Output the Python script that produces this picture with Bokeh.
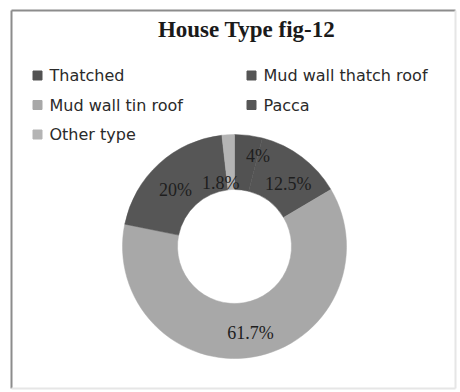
import math
from bokeh.plotting import figure
from bokeh.models import Range1d, ColumnDataSource
from bokeh.core.properties import value
from bokeh.embed import file_html
from bokeh.resources import INLINE

# ---- data ----
categories = ["Thatched", "Mud wall thatch roof", "Mud wall tin roof", "Pacca", "Other type"]
percent = [4.0, 12.5, 61.7, 20.0, 1.8]
pct_labels = ["4%", "12.5%", "61.7%", "20%", "1.8%"]
title_text = "House Type fig-12"

# ---- style ----
colors = ["#525252", "#555555", "#a8a8a8", "#565656", "#b4b4b4"]
W, H = 460, 392
cx, cy = 234, H - 246
r_in, r_out = 57, 112
# label nudges in screen px (dx right, dy down) mimicking the original's placement
nudge = {"Thatched": (13, -7), "Mud wall thatch roof": (3, 5), "Mud wall tin roof": (2, 3),
         "Pacca": (-2, 6), "Other type": (-9, 21)}

p = figure(width=W, height=H, output_backend="svg", toolbar_location=None,
           x_range=Range1d(0, W), y_range=Range1d(0, H), min_border=0)
p.axis.visible = False
p.grid.visible = False
p.outline_line_color = None
p.background_fill_color = "white"
p.border_fill_color = "white"

# frame
p.segment(x0=[11, 11, 455, 11], y0=[H - 10, H - 10, H - 10, H - 388],
          x1=[455, 11, 455, 455], y1=[H - 10, H - 388, H - 388, H - 388],
          line_color=["#8c8c8c", "#8c8c8c", "#e6e6e6", "#e6e6e6"], line_width=2)

# donut
total = sum(percent)
starts, ends, lx, ly = [], [], [], []
cum = 0.0
for c, v in zip(categories, percent):
    a0 = cum / total
    a1 = (cum + v) / total
    starts.append(math.pi / 2 - a0 * 2 * math.pi)
    ends.append(math.pi / 2 - a1 * 2 * math.pi)
    mid = (a0 + a1) / 2 * 2 * math.pi
    rm = (r_in + r_out) / 2
    dx, dy = nudge[c]
    lx.append(cx + rm * math.sin(mid) + dx)
    ly.append(cy + rm * math.cos(mid) - dy)
    cum += v

src = ColumnDataSource(dict(start=starts, end=ends, color=colors, lx=lx, ly=ly, lab=pct_labels))
p.annular_wedge(x=cx, y=cy, inner_radius=r_in, outer_radius=r_out,
                start_angle="start", end_angle="end", direction="clock",
                fill_color="color", line_color="color", line_width=0.5, source=src)
p.text(x="lx", y="ly", text="lab", source=src, text_align="center", text_baseline="middle",
       text_font=value("Liberation Serif"), text_font_size="18px", text_color="#1e1e1e")

# title
p.text(x=[246], y=[H - 29], text=[title_text], text_align="center", text_baseline="middle",
       text_font=value("Liberation Serif"), text_font_style="bold", text_font_size="23px",
       text_color="#1a1a1a")

# legend (2 columns)
col_x = [37, 251]
row_y0, row_dy = 75, 29.5
mx, my, tx, ty = [], [], [], []
for i, c in enumerate(categories):
    col, row = i % 2, i // 2
    mx.append(col_x[col])
    my.append(H - (row_y0 + row * row_dy))
    tx.append(col_x[col] + 12)
    ty.append(H - (row_y0 + row * row_dy))
p.scatter(x=mx, y=my, marker="square", size=9, fill_color=colors, line_color=colors)
p.text(x=tx, y=ty, text=categories, text_align="left", text_baseline="middle",
       text_font=value("DejaVu Sans"), text_font_size="16px", text_color="#2a2a2a")

open("out.html", "w").write(file_html(p, INLINE))
